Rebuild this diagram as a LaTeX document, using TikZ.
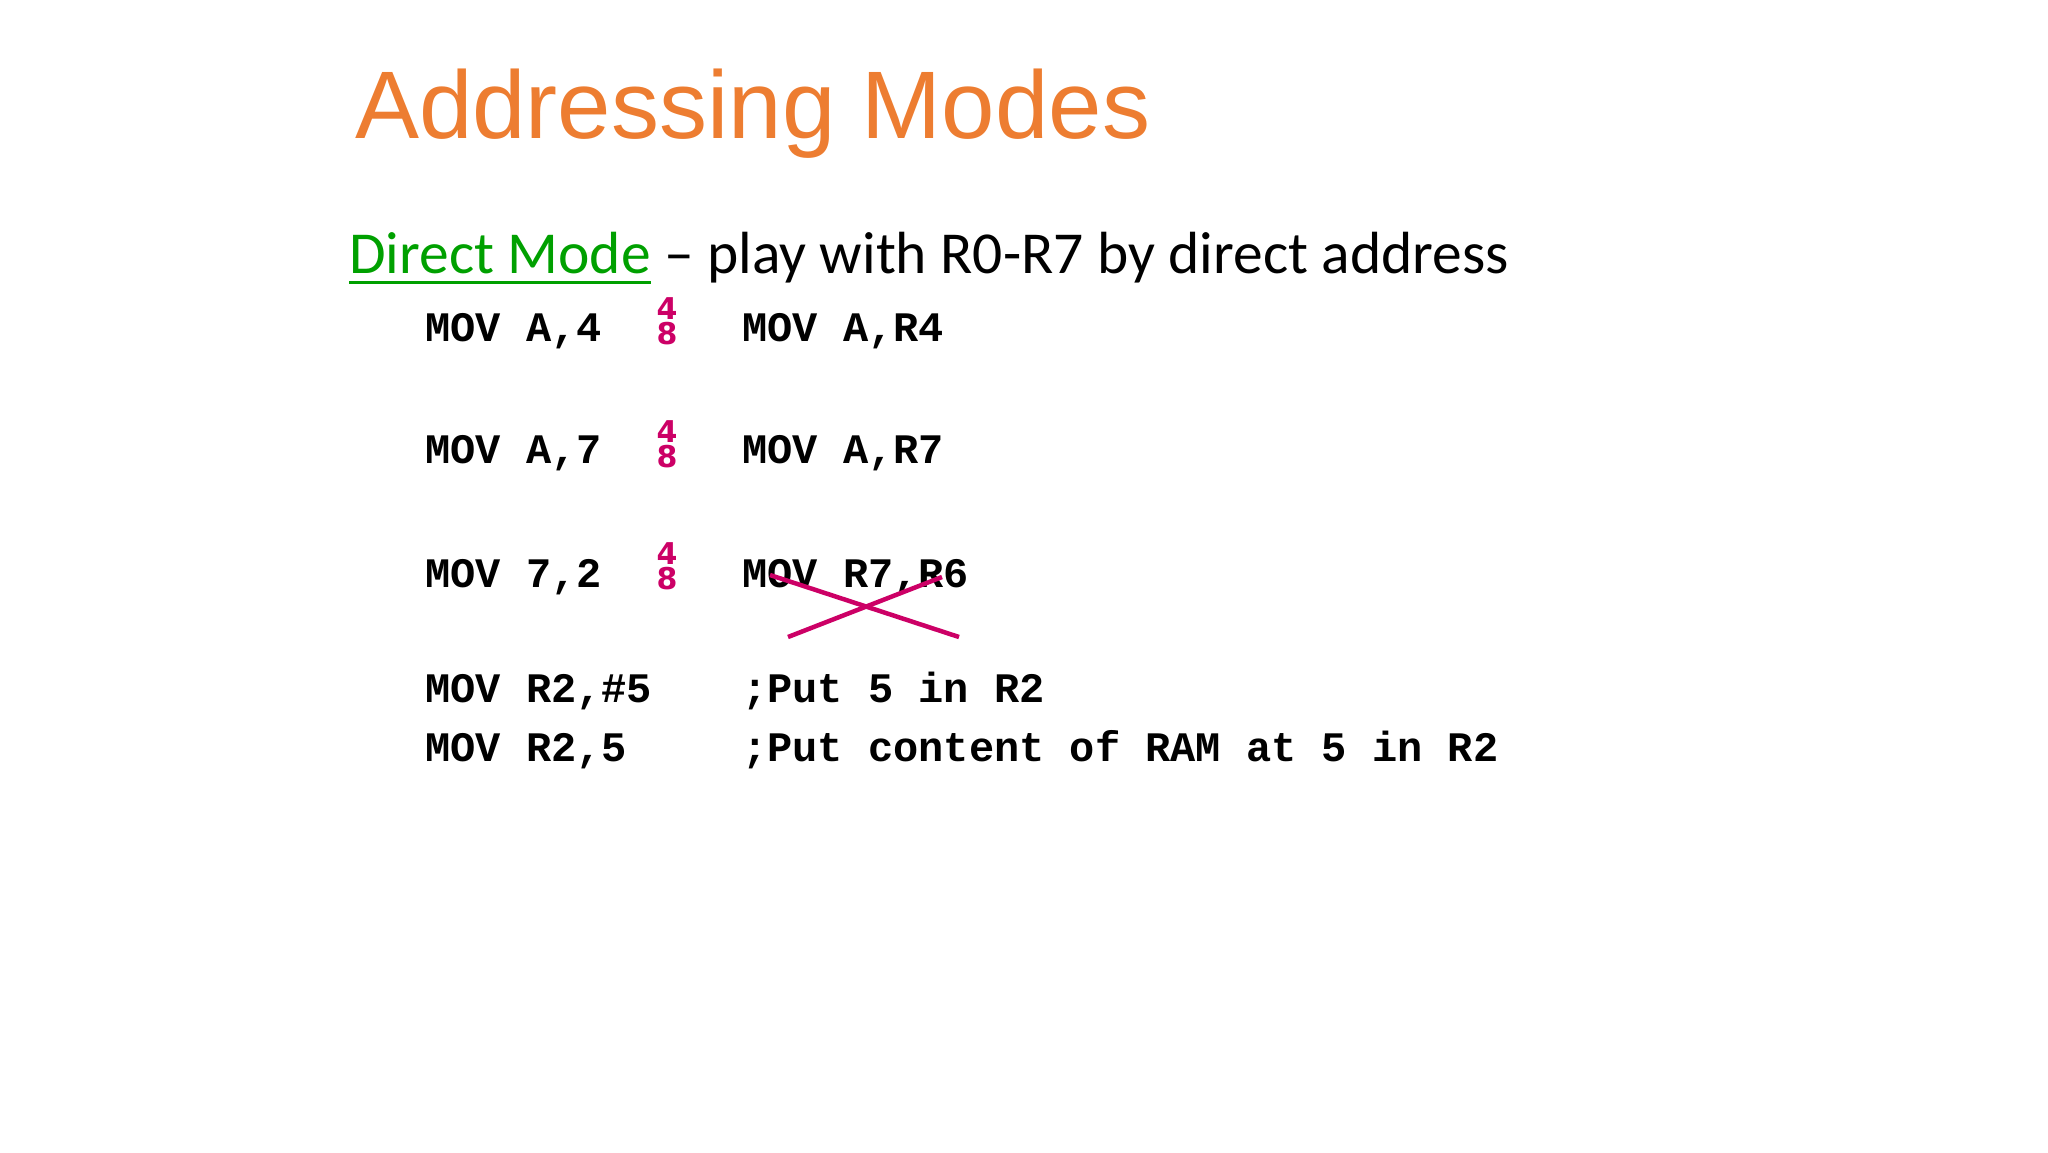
\documentclass[tikz,border=0pt]{standalone}
\usepackage{fontspec}
\setmainfont{Carlito}
\newfontfamily\titlefont{Liberation Sans}
\newfontfamily\codefont{Liberation Mono}
\newfontfamily\digfont{DejaVu Sans}
\definecolor{ttl}{HTML}{ED7D31}
\definecolor{grn}{HTML}{00A000}
\definecolor{mag}{HTML}{CC0066}
\begin{document}
\begin{tikzpicture}[x=1pt,y=-1pt,
  code/.style={anchor=base west,inner sep=0,font=\codefont\bfseries\fontsize{42}{42}\selectfont},
  frac/.style={anchor=center,inner sep=0,align=center,text=mag,font=\digfont\bfseries\fontsize{30}{25}\selectfont},
  cross/.style={draw=mag,line width=4.5pt}]
\useasboundingbox (0,0) rectangle (2048,1152);
\node[anchor=base west,inner sep=0,text=ttl,font=\titlefont\fontsize{96}{96}\selectfont] (title) at (355,138) {Addressing Modes};
\node[anchor=base west,inner sep=0,font=\fontsize{59.5}{60}\selectfont] (sub) at (349,273) {\textcolor{grn}{Direct Mode} -- play with R0-R7 by direct address};
\node[anchor=base west,inner sep=0,font=\fontsize{59.5}{60}\selectfont,text=grn] (dm) at (349,273) {\phantom{Direct Mode}};
\draw[grn,line width=3pt] ([yshift=-9]dm.base west) -- ([yshift=-9]dm.base east);
\node[code] (a1) at (425,341) {MOV A,4};
\node[code] (b1) at (742,341) {MOV A,R4};
\node[code] (a2) at (425,463) {MOV A,7};
\node[code] (b2) at (742,463) {MOV A,R7};
\node[code] (a3) at (425,587) {MOV 7,2};
\node[code] (b3) at (742,587) {MOV R7,R6};
\node[code] (a4) at (425,702) {MOV R2,\#5};
\node[code] (b4) at (742,702) {;Put 5 in R2};
\node[code] (a5) at (425,761) {MOV R2,5};
\node[code] (b5) at (742,761) {;Put content of RAM at 5 in R2};
\node[frac] (f1) at (667,321) {4\\8};
\node[frac] (f2) at (667,444) {4\\8};
\node[frac] (f3) at (667,566) {4\\8};
\coordinate (c1) at (770,575); \coordinate (c2) at (959,637);
\coordinate (c3) at (788,637); \coordinate (c4) at (942,577);
\draw[cross] (c1) -- (c2);
\draw[cross] (c3) -- (c4);
\end{tikzpicture}
\end{document}
